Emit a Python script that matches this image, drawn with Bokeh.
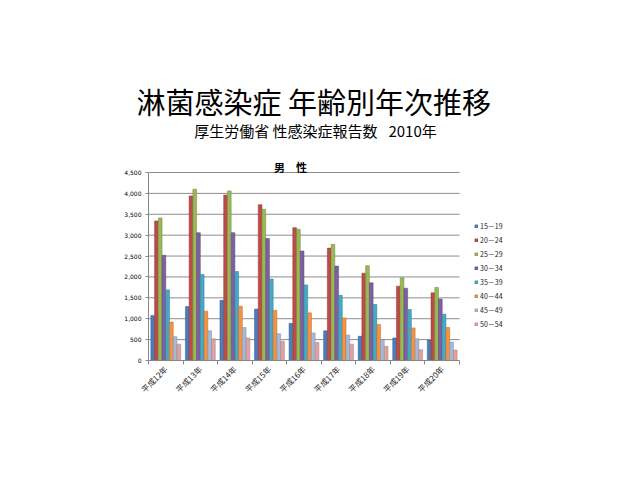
import math
from bokeh.plotting import figure
from bokeh.models import (Range1d, FixedTicker, NumeralTickFormatter, Label, Legend, LegendItem,
                          ColumnDataSource)
from bokeh.transform import dodge
from bokeh.embed import file_html
from bokeh.resources import INLINE

# ---- data ----
years = ["平成12年", "平成13年", "平成14年", "平成15年", "平成16年",
         "平成17年", "平成18年", "平成19年", "平成20年"]
age_groups = ["15－19", "20－24", "25－29", "30－34", "35－39", "40－44", "45－49", "50－54"]
a15_19 = [1080, 1290, 1440, 1230, 890, 710, 580, 540, 490]
a20_24 = [3340, 3940, 3960, 3730, 3180, 2690, 2090, 1780, 1620]
a25_29 = [3410, 4100, 4060, 3620, 3140, 2780, 2270, 1980, 1750]
a30_34 = [2520, 3060, 3060, 2920, 2620, 2260, 1860, 1730, 1470]
a35_39 = [1690, 2060, 2130, 1950, 1810, 1560, 1340, 1220, 1110]
a40_44 = [920, 1180, 1300, 1200, 1140, 1020, 860, 780, 790]
a45_49 = [570, 710, 790, 640, 660, 610, 480, 520, 440]
a50_54 = [390, 520, 540, 460, 430, 390, 340, 260, 250]
series = [a15_19, a20_24, a25_29, a30_34, a35_39, a40_44, a45_49, a50_54]
y_ticks = [0, 500, 1000, 1500, 2000, 2500, 3000, 3500, 4000, 4500]

title_text = "淋菌感染症 年齢別年次推移"
subtitle_text = "厚生労働省 性感染症報告数\u2002 2010年"
chart_title = "男　性"

fills = ["#4A7EBB", "#BE4B48", "#98B954", "#7D60A0", "#46AAC5", "#F69240", "#A7B9D9", "#DDA3A2"]
lines = ["#385D8A", "#8C3836", "#71893F", "#5C4776", "#357D91", "#B66D31", "#7B8DAF", "#A87C7B"]

n_years = len(years)
centers = [k + 0.5 for k in range(n_years)]
cols = ["s%d" % i for i in range(len(series))]
data = {"pos": centers, "year": years}
for c, s in zip(cols, series):
    data[c] = s
src = ColumnDataSource(data)

JP = "Noto Sans CJK JP"
GRAY = "#868686"

# layout (pixels): plotting area 311x188, frame extended up/right for titles & legend
PLOT_W, PLOT_H = 311, 188
FRAME_W, FRAME_H = 382, 239
y_end = y_ticks[-1] * FRAME_H / PLOT_H
x_end = n_years * FRAME_W / PLOT_W

p = figure(frame_width=FRAME_W, frame_height=FRAME_H,
           x_range=Range1d(0, x_end),
           y_range=Range1d(0, y_end),
           output_backend="svg", toolbar_location=None,
           min_border_left=148, min_border_right=94,
           min_border_top=121, min_border_bottom=104)
p.outline_line_color = None
p.background_fill_color = "white"
p.border_fill_color = "white"

# main title above the frame
p.title.text = title_text
p.title.text_font = JP
p.title.text_font_size = "29px"
p.title.text_font_style = "normal"
p.title.align = "left"
p.title.offset = -12
p.title.standoff = 0
p.title.text_color = "black"

xa = p.xaxis[0]
xa.bounds = (0, n_years)
xa.ticker = FixedTicker(ticks=centers, minor_ticks=list(range(n_years + 1)))
xa.major_label_overrides = {c: y for c, y in zip(centers, years)}
xa.axis_line_color = GRAY
xa.major_tick_line_color = None
xa.minor_tick_line_color = GRAY
xa.minor_tick_out = 4
xa.minor_tick_in = 0
xa.major_tick_out = 4
xa.major_tick_in = 0
xa.major_label_orientation = math.pi / 4
xa.major_label_text_font = JP
xa.major_label_text_font_size = "8px"
xa.major_label_text_color = "#222222"
xa.major_label_standoff = 3

ya = p.yaxis[0]
ya.bounds = (0, y_ticks[-1])
ya.ticker = y_ticks
ya.formatter = NumeralTickFormatter(format="0,0")
ya.axis_line_color = GRAY
ya.major_tick_line_color = GRAY
ya.major_tick_out = 3
ya.major_tick_in = 0
ya.minor_tick_line_color = None
ya.major_label_text_font = "DejaVu Sans"
ya.major_label_text_font_size = "6px"
ya.major_label_text_color = "#000000"
ya.major_label_standoff = 4
p.xgrid.visible = False
p.ygrid.visible = False

# horizontal gridlines limited to the category area
p.segment(x0=0, x1=n_years, y0=y_ticks[1:], y1=y_ticks[1:], line_color="#8C8C8C", line_width=1)

w = 0.108
n = len(series)
items = []
for i, c in enumerate(cols):
    r = p.vbar(x=dodge("pos", (i - (n - 1) / 2) * w), top=c, width=w,
               source=src, fill_color=fills[i], line_color=lines[i], line_width=0.5)
    items.append(LegendItem(label=age_groups[i], renderers=[r]))

legend = Legend(items=items, location=(326, 31), glyph_width=4, glyph_height=4,
                label_height=8, spacing=4, padding=0, margin=0,
                border_line_color=None, background_fill_alpha=0,
                label_text_font=JP, label_text_font_size="7px", label_standoff=2,
                label_text_color="#222222")
p.add_layout(legend, "center")

p.add_layout(Label(x=167, y=230, x_units="screen", y_units="screen", text=subtitle_text,
                   text_font=JP, text_font_size="15px", text_align="center",
                   text_baseline="middle", text_color="black"))
p.add_layout(Label(x=142, y=194, x_units="screen", y_units="screen", text=chart_title,
                   text_font=JP, text_font_size="11px", text_font_style="bold",
                   text_align="center", text_baseline="middle", text_color="black"))

open("out.html", "w").write(file_html(p, INLINE))
